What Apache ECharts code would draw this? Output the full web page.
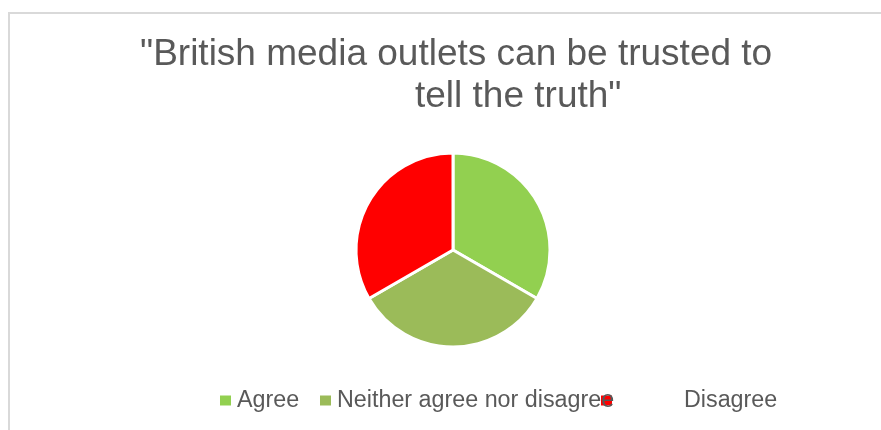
<!DOCTYPE html>
<html>
<head>
<meta charset="utf-8">
<script src="https://cdn.jsdelivr.net/npm/echarts@6/dist/echarts.min.js"></script>
<style>
  html, body { margin: 0; padding: 0; background: #fff; }
  #chart { width: 881px; height: 430px; }
</style>
</head>
<body>
<div id="chart"></div>
<script>
var categories = ['Agree', 'Neither agree nor disagree', 'Disagree'];
var values = [33.3, 33.3, 33.3];
var colors = ['#92d050', '#9bbb59', '#ff0000'];
var titleLines = ['"British media outlets can be trusted to', 'tell the truth"'];

var chart = echarts.init(document.getElementById('chart'));

var seriesData = [];
for (var i = 0; i < categories.length; i++) {
	seriesData.push({ name: categories[i], value: values[i], itemStyle: { color: colors[i] } });
}

function legendFor(idx, left, z, extra){
	var leg = {
		data: [categories[idx]],
		left: left,
		top: 389,
		z: z,
		padding: 0,
		icon: 'rect',
		itemWidth: 13,
		itemHeight: 12,
		itemGap: 5,
		selectedMode: false,
		textStyle: { color: '#595959', fontSize: 23.3, fontFamily: 'Liberation Sans, Arial, sans-serif' }
	};
	if (extra) leg.textStyle.padding = extra;
	return leg;
}

var option = {
	animation: false,
	backgroundColor: '#fff',
	title: [{
		text: titleLines[0],
		left: 140,
		top: 34,
		padding: 0,
		textStyle: { color: '#595959', fontSize: 37, fontWeight: 'normal', lineHeight: 42, fontFamily: 'Liberation Sans, Arial, sans-serif' }
	},{
		text: titleLines[1],
		left: 415,
		top: 76,
		padding: 0,
		textStyle: { color: '#595959', fontSize: 37, fontWeight: 'normal', lineHeight: 42, fontFamily: 'Liberation Sans, Arial, sans-serif' }
	}],
	legend: [
		legendFor(0, 218, 4),
		legendFor(1, 318, 6),
		legendFor(2, 599, 5, [0, 0, 0, 66])
	],
	graphic: [{
		type: 'rect',
		silent: true,
		shape: { x: 9, y: 13, width: 1000, height: 600 },
		style: { fill: 'none', stroke: '#d9d9d9', lineWidth: 2 }
	}],
	series: [{
		type: 'pie',
		center: [453, 250],
		radius: 97,
		startAngle: 90,
		clockwise: true,
		label: { show: false },
		labelLine: { show: false },
		emphasis: { disabled: true },
		itemStyle: { borderColor: '#fff', borderWidth: 3 },
		data: seriesData
	}]
};

chart.setOption(option);
</script>
</body>
</html>
